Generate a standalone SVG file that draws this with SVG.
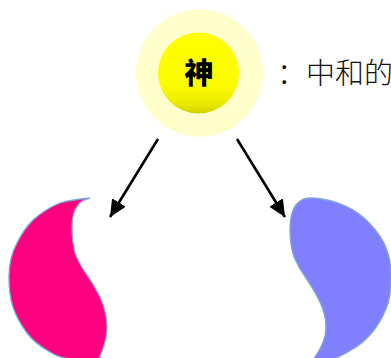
<svg xmlns="http://www.w3.org/2000/svg" width="391" height="358" viewBox="0 0 391 358">
<style>
.conn{stroke:#000;stroke-width:2.6;fill:none;marker-end:url(#ah)}
.lobe{stroke:#7fa6d6;stroke-width:1.3}
text{font-family:"Noto Sans CJK SC","Noto Sans CJK TC",sans-serif}
</style>
<defs>
<marker id="ah" markerUnits="userSpaceOnUse" markerWidth="20" markerHeight="20" refX="17" refY="8" orient="auto">
<path d="M0,0L17,8L0,16Z" fill="#000"/>
</marker>
<linearGradient id="g" x1="0" y1="0" x2="0" y2="1">
<stop offset="0" stop-color="#ffff00"/><stop offset="0.65" stop-color="#fcfc00"/><stop offset="0.88" stop-color="#eaea00"/><stop offset="1" stop-color="#d0d000"/>
</linearGradient>
</defs>
<g id="connectors">
<line class="conn" x1="158" y1="139" x2="110" y2="217"/>
<line class="conn" x1="237" y1="139" x2="285" y2="217"/>
</g>
<g id="node-god">
<circle cx="199.5" cy="73" r="63.5" fill="#ffffcc"/>
<circle cx="198.5" cy="73" r="40.5" fill="url(#g)"/>
<text x="199" y="84" font-size="29" font-weight="900" text-anchor="middle" fill="#000">神</text>
</g>
<text id="label" x="277" y="84" font-size="29" font-weight="300" fill="#111">：中和的</text>
<g id="node-yin">
<path class="lobe" fill="#ff0080" d="M90,198C80,199 70,200 60,203C50,207 41,213 33,220C26,227 21,235 17,243C11,254 9,265 9,277C9,288 10,298 13,307C16,316 21,325 27,333C33,341 41,347 50,352C56,356 63,358 70,359L98,361C103,350 107,339 107,327C107,316 104,306 100,297C96,289 92,282 87,275C82,268 78,261 75,253C73,245 72,236 72,227C72,218 74,210 78,205C81,201 86,199 90,198Z"/>
</g>
<g id="node-yang">
<path class="lobe" fill="#8080ff" d="M309,198C319,198 329,200 338,203C347,206 356,211 364,218C372,225 379,234 384,243C388,252 391,262 391,273C391,284 391,294 388,303C385,313 380,322 374,330C368,338 360,345 351,350C345,354 340,356 334,359L312,361C320,351 326,339 326,327C326,317 323,308 319,300C315,292 311,285 306,278C301,271 297,264 294,257C291,248 290,239 290,230C290,222 291,214 294,208C297,202 303,198 309,198Z"/>
</g>
</svg>
